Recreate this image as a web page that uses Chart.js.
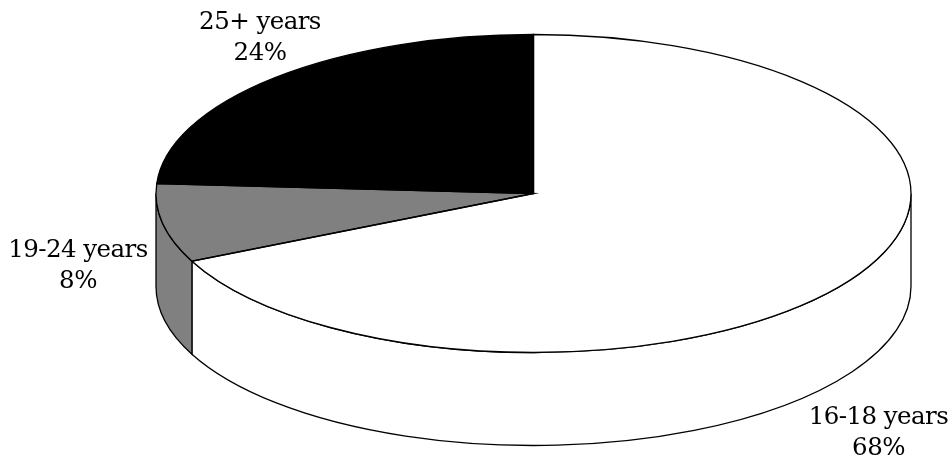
<!DOCTYPE html>
<html>
<head>
<meta charset="utf-8">
<title>Age groups</title>
<script src="https://cdn.jsdelivr.net/npm/chart.js@4/dist/chart.umd.min.js"></script>
<style>
    html, body { margin: 0; padding: 0; background: #fff; }
    #ageChart { display: block; }
</style>
</head>
<body>
<canvas id="ageChart" width="952" height="464"></canvas>
<script>
// Age groups, clockwise from the top of the pie
const ageGroups = ['16-18 years', '19-24 years', '25+ years'];
const sharePercent = [68, 8, 24];
const sliceColors = ['#ffffff', '#808080', '#000000'];

// Tilted pie geometry
const radiusX = 377.5;
const radiusY = 159;
const depth = 93;
const edgeWidth = 1.3;

// Centre x and first baseline of each two-line label
const labelAnchors = [[878.5, 424], [78, 257], [260, 28.5]];
const labelFont = '24.5px "DejaVu Serif"';
const labelLineHeight = 31;

// Draws the side wall, and squashes the circular arcs into an ellipse
const tiltedPie = {
    id: 'tiltedPie',
    beforeDatasetsDraw(chart) {
        const ctx = chart.ctx;
        const arcs = chart.getDatasetMeta(0).data;
        ctx.save();
        ctx.strokeStyle = '#000';
        ctx.lineWidth = edgeWidth;
        arcs.forEach((arc, i) => {
            // only the part facing the viewer has a visible wall
            const from = Math.max(arc.startAngle, 0);
            const to = Math.min(arc.endAngle, Math.PI);
            if (from >= to) return;
            ctx.beginPath();
            ctx.ellipse(arc.x, arc.y, radiusX, radiusY, 0, from, to);
            ctx.ellipse(arc.x, arc.y + depth, radiusX, radiusY, 0, to, from, true);
            ctx.closePath();
            ctx.fillStyle = sliceColors[i];
            ctx.fill();
            ctx.stroke();
        });
        ctx.restore();

        const first = arcs[0];
        ctx.save();
        ctx.translate(first.x, first.y);
        ctx.scale(radiusX / first.outerRadius, radiusY / first.outerRadius);
        ctx.translate(-first.x, -first.y);
    },
    afterDatasetsDraw(chart) {
        const ctx = chart.ctx;
        ctx.restore();

        // outlines go on after the transform so the line width stays even
        const arcs = chart.getDatasetMeta(0).data;
        ctx.save();
        ctx.strokeStyle = '#000';
        ctx.lineWidth = edgeWidth;
        arcs.forEach((arc) => {
            ctx.beginPath();
            ctx.moveTo(arc.x, arc.y);
            ctx.ellipse(arc.x, arc.y, radiusX, radiusY, 0, arc.startAngle, arc.endAngle);
            ctx.closePath();
            ctx.stroke();
        });

        ctx.fillStyle = '#000';
        ctx.font = labelFont;
        ctx.letterSpacing = '-0.55px';
        ctx.textAlign = 'center';
        ctx.textBaseline = 'alphabetic';
        ageGroups.forEach((group, i) => {
            const [x, y] = labelAnchors[i];
            ctx.fillText(group, x, y);
            ctx.fillText(sharePercent[i] + '%', x, y + labelLineHeight);
        });
        ctx.restore();
    },
};

const ctx = document.getElementById('ageChart').getContext('2d');
new Chart(ctx, {
    type: 'pie',
    data: {
        labels: ageGroups,
        datasets: [
            {
                data: sharePercent,
                backgroundColor: sliceColors,
                borderWidth: 0,
            },
        ],
    },
    options: {
        responsive: false,
        animation: false,
        layout: {
            padding: { left: 115, right: 0, top: 0, bottom: 77 },
        },
        plugins: {
            legend: { display: false },
            tooltip: { enabled: false },
        },
    },
    plugins: [tiltedPie],
});
</script>
</body>
</html>
